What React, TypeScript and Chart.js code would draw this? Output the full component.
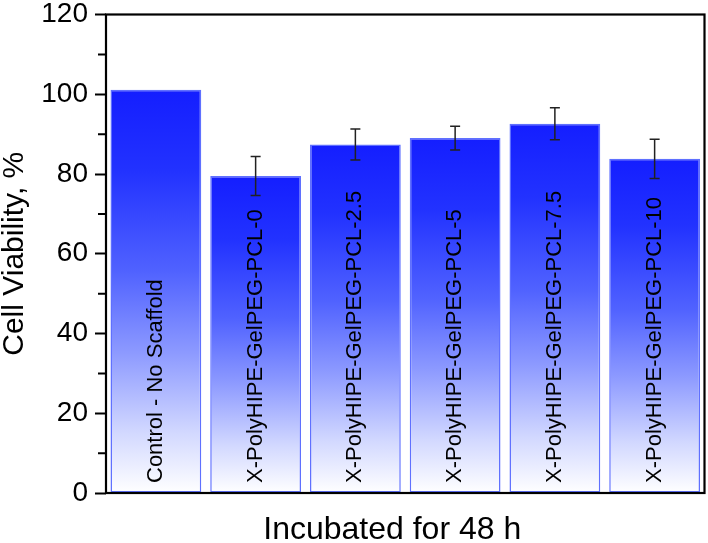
import React, { useEffect, useRef } from "react";
import { Chart, registerables } from "chart.js";

Chart.register(...registerables);

const categories = [
  "Control - No Scaffold",
  "X-PolyHIPE-GelPEG-PCL-0",
  "X-PolyHIPE-GelPEG-PCL-2.5",
  "X-PolyHIPE-GelPEG-PCL-5",
  "X-PolyHIPE-GelPEG-PCL-7.5",
  "X-PolyHIPE-GelPEG-PCL-10",
];
const viability = [101.1, 79.5, 87.4, 89.0, 92.6, 83.8];
const errors = [0, 4.9, 3.9, 3.0, 4.0, 4.9];
const yTicksMajor = [0, 20, 40, 60, 80, 100, 120];
const yTicksMinor = [10, 30, 50, 70, 90, 110];
const xTitle = "Incubated for 48 h";
const yTitle = "Cell Viability, %";

const FONT = "'Liberation Sans', Arial, Helvetica, sans-serif";

const overlayPlugin = {
  id: "overlay",
  afterDatasetsDraw(chart: any) {
    const { ctx, chartArea, scales } = chart;
    const y = scales.y;
    const meta = chart.getDatasetMeta(0);
    ctx.save();
    // error bars
    ctx.strokeStyle = "#222";
    ctx.lineWidth = 1.5;
    meta.data.forEach((bar: any, i: number) => {
      const e = errors[i];
      if (!e) return;
      const v = viability[i];
      const yt = y.getPixelForValue(v + e);
      const yb = y.getPixelForValue(v - e);
      const x = bar.x;
      ctx.beginPath();
      ctx.moveTo(x, yt);
      ctx.lineTo(x, yb);
      ctx.moveTo(x - 5, yt);
      ctx.lineTo(x + 5, yt);
      ctx.moveTo(x - 5, yb);
      ctx.lineTo(x + 5, yb);
      ctx.stroke();
    });
    // labels inside bars
    ctx.fillStyle = "#000";
    ctx.font = `22px ${FONT}`;
    ctx.textAlign = "left";
    ctx.textBaseline = "middle";
    meta.data.forEach((bar: any, i: number) => {
      ctx.save();
      ctx.translate(bar.x, y.getPixelForValue(0) - 10);
      ctx.rotate(-Math.PI / 2);
      ctx.fillText(categories[i], 0, 0);
      ctx.restore();
    });
    // frame
    ctx.strokeStyle = "#000";
    ctx.lineWidth = 2.2;
    ctx.strokeRect(
      chartArea.left,
      chartArea.top,
      chartArea.right - chartArea.left,
      chartArea.bottom - chartArea.top
    );
    // minor ticks
    ctx.lineWidth = 2;
    ctx.beginPath();
    yTicksMinor.forEach((v) => {
      const py = y.getPixelForValue(v);
      ctx.moveTo(chartArea.left - 8, py);
      ctx.lineTo(chartArea.left, py);
    });
    ctx.stroke();
    // x title
    ctx.fillStyle = "#000";
    ctx.font = `32px ${FONT}`;
    ctx.textAlign = "center";
    ctx.textBaseline = "middle";
    ctx.fillText(xTitle, (chartArea.left + chartArea.right) / 2 - 13, chart.height - 13);
    ctx.restore();
  },
};

export default function App() {
  const ref = useRef<HTMLCanvasElement>(null);
  useEffect(() => {
    if (!ref.current) return;
    const chart = new Chart(ref.current, {
      type: "bar",
      data: {
        labels: categories,
        datasets: [
          {
            data: viability,
            backgroundColor: (c: any) => {
              const ch = c.chart;
              const ys = ch.scales && ch.scales.y;
              if (!ch.chartArea || !ys || c.parsed == null) return "#2030ff";
              const top = ys.getPixelForValue(c.parsed.y);
              const bottom = ys.getPixelForValue(0);
              const g = ch.ctx.createLinearGradient(0, top, 0, bottom);
              g.addColorStop(0, "rgb(20,30,255)");
              g.addColorStop(0.2, "rgb(34,50,255)");
              g.addColorStop(0.45, "rgb(80,98,255)");
              g.addColorStop(0.65, "rgb(140,153,255)");
              g.addColorStop(0.85, "rgb(210,216,255)");
              g.addColorStop(1, "rgb(255,255,255)");
              return g;
            },
            borderColor: "rgb(95,112,255)",
            borderWidth: 1.5,
            borderSkipped: false,
            barPercentage: 0.91,
            categoryPercentage: 1.0,
          },
        ],
      },
      options: {
        responsive: false,
        animation: false,
        devicePixelRatio: 1,
        layout: { padding: { top: 14.5, right: 3.5, left: 0, bottom: 0 } },
        plugins: { legend: { display: false }, tooltip: { enabled: false } },
        scales: {
          x: {
            type: "category",
            ticks: { display: false },
            grid: { display: false },
            border: { display: false },
            afterFit: (s: any) => {
              s.height = 50;
            },
          },
          y: {
            min: 0,
            max: 120,
            afterBuildTicks: (s: any) => {
              s.ticks = yTicksMajor.map((v) => ({ value: v }));
            },
            ticks: {
              color: "#000",
              font: { family: FONT, size: 28, lineHeight: 0.5 },
              padding: 7,
              callback: (v: any) => String(v),
            },
            grid: {
              display: true,
              drawOnChartArea: false,
              drawTicks: true,
              tickLength: 11,
              tickWidth: 2,
              tickColor: "#000",
              color: "#000",
            },
            border: { display: false },
            title: {
              display: true,
              text: yTitle,
              color: "#000",
              font: { family: FONT, size: 30, lineHeight: 1 },
              padding: 0,
            },
            afterFit: (s: any) => {
              s.width = 106;
            },
          },
        },
      },
      plugins: [overlayPlugin],
    });
    return () => chart.destroy();
  }, []);
  return (
    <canvas
      ref={ref}
      width={708}
      height={543}
      style={{ position: "absolute", left: 0, top: 0, background: "#fff" }}
    />
  );
}
